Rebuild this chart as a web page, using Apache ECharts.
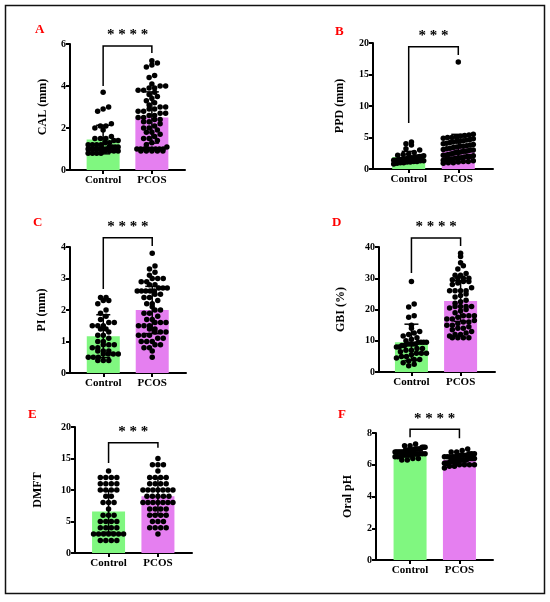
<!DOCTYPE html>
<html><head><meta charset="utf-8">
<script src="https://cdn.jsdelivr.net/npm/echarts@6/dist/echarts.min.js"></script>
<style>html,body{margin:0;padding:0;background:#fff}#c{width:550px;height:602px}</style>
</head><body><div id="c"></div>
<script>
const categories = ['Control', 'PCOS'];
const panelLetters = ['A', 'B', 'C', 'D', 'E', 'F'];
const axisNames = ['CAL (mm)', 'PPD (mm)', 'PI (mm)', 'GBI (%)', 'DMFT', 'Oral pH'];
const yMax = [6, 20, 4, 40, 20, 8];
const yInterval = [2, 5, 1, 10, 5, 2];
const starLabels = ['* * * *', '* * *', '* * * *', '* * * *', '* * *', '* * * *'];

// A: CAL
const calControl = [3.7,3.0,2.9,2.8,2.2,2.1,2.1,2.0,1.9,1.6,1.5,1.5,1.5,1.4,1.4,1.3,1.3,1.2,1.2,1.2,1.1,1.1,1.1,1.1,1.0,1.0,1.0,1.0,1.0,1.0,0.9,0.9,0.9,0.9,0.8,0.8,0.8,0.8,1.2,1.0];
const calPcos = [5.2,5.1,5.0,4.9,4.5,4.4,4.1,4.0,4.0,3.9,3.9,3.8,3.8,3.7,3.6,3.5,3.4,3.3,3.2,3.1,3.0,3.0,2.9,2.9,2.8,2.8,2.7,2.7,2.6,2.6,2.5,2.5,2.4,2.4,2.3,2.3,2.2,2.1,2.0,2.0,1.9,1.8,1.8,1.7,1.6,1.5,1.5,1.4,1.3,1.2,1.1,1.0,1.0,1.0,1.0,1.0,1.0,1.0,1.0,0.9,0.9,0.9,0.9,0.9];
const calMean = [1.45, 2.5];
const calSD = [0.68, 1.22];
// B: PPD
const ppdControl = [4.3,4.0,3.8,3.2,3.0,2.6,2.4,2.3,2.2,2.1,2.0,2.0,1.9,1.9,1.8,1.8,1.7,1.7,1.6,1.6,1.5,1.5,1.4,1.4,1.4,1.3,1.3,1.2,1.2,1.1,1.1,1.0,1.0,0.9,0.8];
const ppdPcos = [17,5.5,5.4,5.3,5.2,5.1,5.0,5.0,4.9,4.8,4.7,4.6,4.5,4.4,4.4,4.3,4.2,4.1,4.0,3.9,3.8,3.7,3.6,3.6,3.5,3.4,3.3,3.2,3.1,3.0,3.0,2.9,2.8,2.8,2.7,2.6,2.6,2.5,2.4,2.3,2.2,2.2,2.1,2.0,2.0,1.9,1.8,1.8,1.7,1.6,1.5,1.5,1.4,1.3,1.2,1.2,1.1,1.0,1.0,0.9];
const ppdMean = [1.9, 3.3];
const ppdSD = [0.9, 2.2];
// C: PI
const piControl = [2.4,2.4,2.3,2.3,2.2,2.0,1.9,1.8,1.7,1.6,1.6,1.5,1.5,1.5,1.4,1.4,1.3,1.2,1.2,1.1,1.0,1.0,0.9,0.9,0.9,0.8,0.8,0.7,0.7,0.7,0.6,0.6,0.6,0.6,0.5,0.5,0.5,0.4,0.4,0.4];
const piPcos = [3.8,3.4,3.3,3.2,3.1,3.0,3.0,3.0,2.9,2.9,2.8,2.8,2.7,2.7,2.7,2.6,2.6,2.6,2.6,2.6,2.5,2.5,2.4,2.4,2.3,2.2,2.2,2.1,2.0,2.0,1.9,1.9,1.8,1.7,1.7,1.6,1.6,1.6,1.5,1.5,1.5,1.4,1.4,1.3,1.3,1.3,1.2,1.2,1.2,1.1,1.1,1.0,1.0,1.0,0.9,0.9,0.8,0.8,0.7,0.5];
const piMean = [1.17, 2.0];
const piSD = [0.68, 0.75];
// D: GBI
const gbiControl = [29,21.8,20.8,18,17.5,15,14,13,12.5,12,11.5,11,10.5,10,9.5,9.5,9.5,9.5,9,9,9,9,8.5,8.5,8,8,7.5,7.5,7,7,6.5,6,6,6,5.5,5,5,4.5,4,4,3.5,3,2.5,2];
const gbiPcos = [38,37,35,34,33,31.5,31,31,30,30,30,29.5,29,29,28.5,28,27,26,26,26,26,25,24.5,24,23,22.5,22,21,21,21,21,20.5,20,19.5,19,18,18,18,17.5,17,17,16.5,16,16,15.5,15,15,14.5,14,14,13.5,13,12.5,12,12,11.5,11,11,11,11];
const gbiMean = [9.5, 22.7];
const gbiSD = [5.8, 6.5];
// E: DMFT
const dmftControl = [13,12,12,12,12,11,11,11,11,10,10,10,10,9,9,8,8,8,7,6,6,6,5,5,5,5,4,4,4,4,3,3,3,3,3,3,3,2,2,2,2];
const dmftPcos = [15,14,14,14,13,12,12,12,12,11,11,11,11,10,10,10,10,10,10,10,9,9,9,9,9,8,8,8,8,8,8,8,7,7,7,7,6,6,6,6,5,5,5,4,4,4,4,3];
const dmftMean = [6.6, 9.0];
const dmftSD = [3.3, 2.9];
// F: Oral pH
const phControl = [7.3,7.2,7.2,7.1,7.1,7.1,7.0,7.0,7.0,7.0,7.0,6.9,6.9,6.9,6.9,6.9,6.9,6.8,6.8,6.8,6.8,6.8,6.8,6.8,6.7,6.7,6.7,6.7,6.7,6.6,6.6,6.6,6.6,6.5,6.5,6.5,6.4,6.4,6.3,6.3];
const phPcos = [7.0,6.9,6.8,6.8,6.7,6.7,6.7,6.6,6.6,6.6,6.6,6.5,6.5,6.5,6.5,6.5,6.4,6.4,6.4,6.4,6.4,6.4,6.4,6.3,6.3,6.3,6.3,6.3,6.3,6.3,6.3,6.2,6.2,6.2,6.2,6.2,6.2,6.2,6.1,6.1,6.1,6.1,6.1,6.0,6.0,6.0,6.0,5.9,5.9,5.8];
const phMean = [6.8, 6.3];
const phSD = [0.25, 0.3];

// significance brackets: [top, left end, right end]
const calBracket = [5.9, 4.0, 5.57];
const ppdBracket = [19.4, 7.3, 18.1];
const piBracket = [4.29, 2.67, 4.03];
const gbiBracket = [42.9, 31.7, 40.3];
const dmftBracket = [17.5, 14.3, 16.7];
const phBracket = [8.24, 7.74, 7.67];

const panelPoints = [[calControl, calPcos],[ppdControl, ppdPcos],[piControl, piPcos],[gbiControl, gbiPcos],[dmftControl, dmftPcos],[phControl, phPcos]];
const panelMeans = [calMean, ppdMean, piMean, gbiMean, dmftMean, phMean];
const panelSD = [calSD, ppdSD, piSD, gbiSD, dmftSD, phSD];
const panelBrackets = [calBracket, ppdBracket, piBracket, gbiBracket, dmftBracket, phBracket];

// layout
const grids = [
  {left:70, top:44, width:115, height:126},
  {left:373, top:43, width:120, height:126},
  {left:70, top:247, width:116, height:126},
  {left:379, top:247, width:116, height:125},
  {left:75, top:427, width:117, height:126},
  {left:376, top:433, width:117, height:127}
];
const xMins = [-0.68,-0.72,-0.68,-0.66,-0.68,-0.69];
const xMaxs = [1.68,1.70,1.69,1.70,1.69,1.68];
const nameGaps = [21,27,22,32,31,22];
const letterPos = [[35,23],[335,25],[33,216],[332,216],[28,408],[338,408]];
const barColors = ['#80f780', '#e57ff0'];
const serif = "'Liberation Serif','Times New Roman',serif";
const DOT = 5.5;
const MAXW = 30;

// row-binned dot layout (GraphPad style): points in the same pixel row sit side by side
function swarm(values, center, pxPerX, pxPerY) {
  const rows = {};
  values.forEach(v => {
    const key = Math.round(v*pxPerY/DOT);
    (rows[key] = rows[key] || []).push(v);
  });
  const out = [];
  Object.keys(rows).forEach(key => {
    const r = rows[key].slice().sort((a,b)=>a-b);
    const n = r.length;
    const s = n > 1 ? Math.min(DOT*1.0, MAXW/(n-1)) : 0;
    r.forEach((v, j) => {
      const off = (j - (n-1)/2) * s;
      out.push([center + off/pxPerX, v]);
    });
  });
  return out;
}

const option = {
  animation:false,
  backgroundColor:'#fff',
  title: panelLetters.map((t,i)=>({text:t, left:letterPos[i][0], top:letterPos[i][1], padding:0,
    textStyle:{color:'#ff0000', fontFamily:serif, fontWeight:'bold', fontSize:13}})),
  graphic:[{type:'rect', shape:{x:5.5,y:5.5,width:539,height:588}, style:{fill:'none', stroke:'#111', lineWidth:1.5}, silent:true}],
  grid: grids,
  xAxis: grids.map((g,i)=>({type:'value', gridIndex:i, min:xMins[i], max:xMaxs[i],
    splitLine:{show:false},
    axisLine:{show:true, onZero:false, lineStyle:{color:'#000', width:2}},
    axisTick:{show:true, customValues:[0,1], length:4, lineStyle:{color:'#000', width:2}},
    axisLabel:{customValues:[0,1], margin:5, formatter:v=>categories[Math.round(v)]||'', color:'#000', fontFamily:serif, fontWeight:'bold', fontSize:11}
  })),
  yAxis: grids.map((g,i)=>({type:'value', gridIndex:i, min:0, max:yMax[i], interval:yInterval[i],
    name:axisNames[i], nameLocation:'middle', nameGap:nameGaps[i], nameRotate:90,
    nameTextStyle:{color:'#000', fontFamily:serif, fontWeight:'bold', fontSize:12},
    splitLine:{show:false},
    axisLine:{show:true, onZero:false, lineStyle:{color:'#000', width:2}},
    axisTick:{show:true, length:4, lineStyle:{color:'#000', width:2}},
    axisLabel:{margin:4, color:'#000', fontFamily:serif, fontWeight:'bold', fontSize:10}
  })),
  series: []
};

grids.forEach((g,i)=>{
  const pxPerX = g.width/(xMaxs[i]-xMins[i]);
  const pxPerY = g.height/yMax[i];
  option.series.push({type:'bar', xAxisIndex:i, yAxisIndex:i, barWidth:33, z:1,
    data: panelMeans[i].map((m,k)=>({value:[k,m], itemStyle:{color:barColors[k]}}))});
  panelPoints[i].forEach((vals,k)=>{
    option.series.push({type:'scatter', xAxisIndex:i, yAxisIndex:i, symbolSize:DOT, z:3,
      itemStyle:{color:'#000', opacity:1}, data: swarm(vals, k, pxPerX, pxPerY)});
  });
  const means = panelMeans[i], sds = panelSD[i];
  option.series.push({type:'custom', xAxisIndex:i, yAxisIndex:i, z:4, clip:false,
    data: [[0, means[0]], [1, means[1]]],
    renderItem:(params, api)=>{
      const k = params.dataIndex;
      const m = means[k], s = sds[k];
      const t = api.coord([k, m+s]), b = api.coord([k, Math.max(0, m-s)]);
      const hw = 7;
      const st = {stroke:'#000', lineWidth:1.5};
      return {type:'group', children:[
        {type:'line', shape:{x1:t[0],y1:t[1],x2:b[0],y2:b[1]}, style:st},
        {type:'line', shape:{x1:t[0]-hw,y1:t[1],x2:t[0]+hw,y2:t[1]}, style:st},
        {type:'line', shape:{x1:b[0]-hw,y1:b[1],x2:b[0]+hw,y2:b[1]}, style:st}
      ]};
    }});
  const br = panelBrackets[i];
  option.series.push({type:'custom', xAxisIndex:i, yAxisIndex:i, z:5, clip:false,
    data: [[0.5, br[0]]],
    renderItem:(params, api)=>{
      const a = api.coord([0, br[0]]), b = api.coord([1, br[0]]);
      const l = api.coord([0, br[1]]), r = api.coord([1, br[2]]);
      const st = {stroke:'#000', lineWidth:1.5, fill:'none'};
      return {type:'group', children:[
        {type:'polyline', shape:{points:[[l[0],l[1]],[a[0],a[1]],[b[0],b[1]],[r[0],r[1]]]}, style:st},
        {type:'text', style:{text:starLabels[i], x:(a[0]+b[0])/2, y:a[1]-3, align:'center', verticalAlign:'bottom',
          font:"bold 15px "+serif, fill:'#000'}}
      ]};
    }});
});

const chart = echarts.init(document.getElementById('c'), null, {renderer:'canvas'});
chart.setOption(option);
</script></body></html>
